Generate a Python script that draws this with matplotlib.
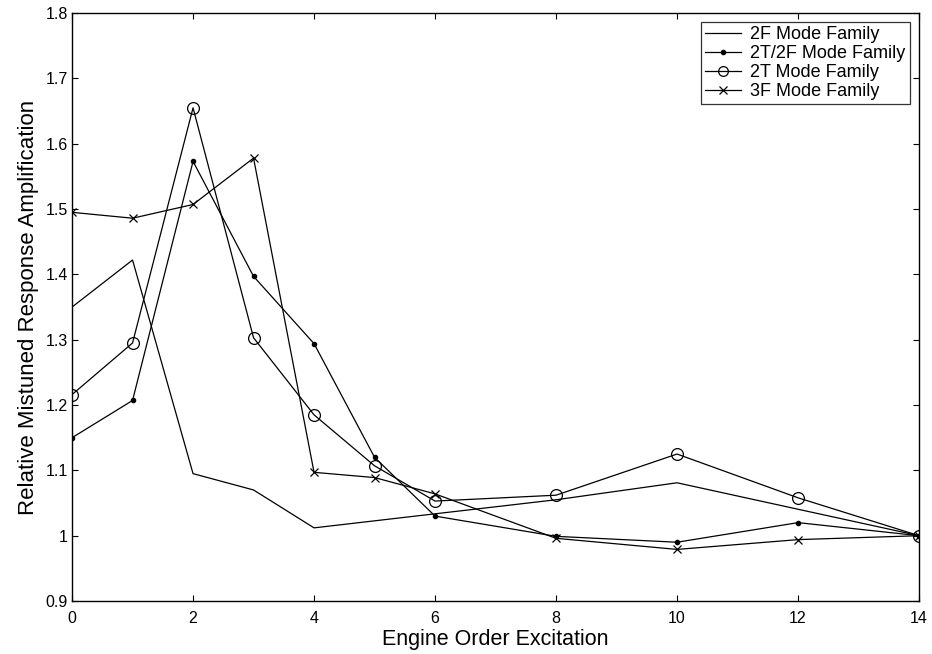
import numpy as np
import matplotlib.pyplot as plt
from matplotlib.ticker import FuncFormatter

plt.rcParams['font.family'] = ['Liberation Sans', 'DejaVu Sans']

# engine order excitation vs. relative mistuned response amplification
eo_2f = [0, 1, 2, 3, 4, 8, 10, 14]
amp_2f = [1.350, 1.422, 1.095, 1.070, 1.012, 1.055, 1.081, 1.000]

eo = [0, 1, 2, 3, 4, 5, 6, 8, 10, 12, 14]
amp_2t2f = [1.150, 1.207, 1.573, 1.397, 1.294, 1.120, 1.030, 0.999, 0.990, 1.020, 1.000]
amp_2t = [1.216, 1.295, 1.655, 1.303, 1.185, 1.107, 1.053, 1.062, 1.125, 1.058, 1.000]
amp_3f = [1.495, 1.486, 1.507, 1.578, 1.097, 1.089, 1.064, 0.996, 0.979, 0.994, 1.000]

xticks = [0, 2, 4, 6, 8, 10, 12, 14]
yticks = [0.9, 1.0, 1.1, 1.2, 1.3, 1.4, 1.5, 1.6, 1.7, 1.8]

fig = plt.figure(figsize=(9.32, 6.54), dpi=100)
ax = fig.add_axes([0.0773, 0.081, 0.9088, 0.899])

lw = 0.9
ax.plot(eo_2f, amp_2f, '-', color='k', lw=lw, label='2F Mode Family')
ax.plot(eo, amp_2t2f, '-', color='k', lw=lw, marker='o', ms=3, mfc='k',
        label='2T/2F Mode Family')
ax.plot(eo, amp_2t, '-', color='k', lw=lw, marker='o', ms=8.5, mfc='none',
        mew=0.9, label='2T Mode Family')
ax.plot(eo, amp_3f, '-', color='k', lw=lw, marker='x', ms=6, mew=0.9,
        label='3F Mode Family')

ax.set_xlim(0, 14)
ax.set_ylim(0.9, 1.8)
ax.set_xticks(xticks)
ax.set_yticks(yticks)
ax.yaxis.set_major_formatter(FuncFormatter(lambda v, p: '%g' % round(v, 2)))
ax.tick_params(direction='in', top=True, right=True, labelsize=11.5,
               length=4.5, width=0.8, pad=3)
ax.tick_params(axis='x', pad=7)
for s in ax.spines.values():
    s.set_linewidth(1.0)

ax.set_xlabel('Engine Order Excitation', fontsize=15.5, labelpad=2)
ax.set_ylabel('Relative Mistuned Response Amplification', fontsize=16,
              labelpad=5)

leg = ax.legend(loc='upper right', fontsize=13, frameon=True, fancybox=False,
                edgecolor='k', borderpad=0.25, labelspacing=0.1,
                handlelength=2.0, handletextpad=0.5, borderaxespad=0,
                bbox_to_anchor=(0.9893, 0.985))
leg.get_frame().set_linewidth(0.9)
for h in leg.legend_handles:
    if h.get_marker() == 'o' and h.get_markerfacecolor() == 'none':
        h.set_markersize(7)

fig.savefig('out.png', dpi=100)
